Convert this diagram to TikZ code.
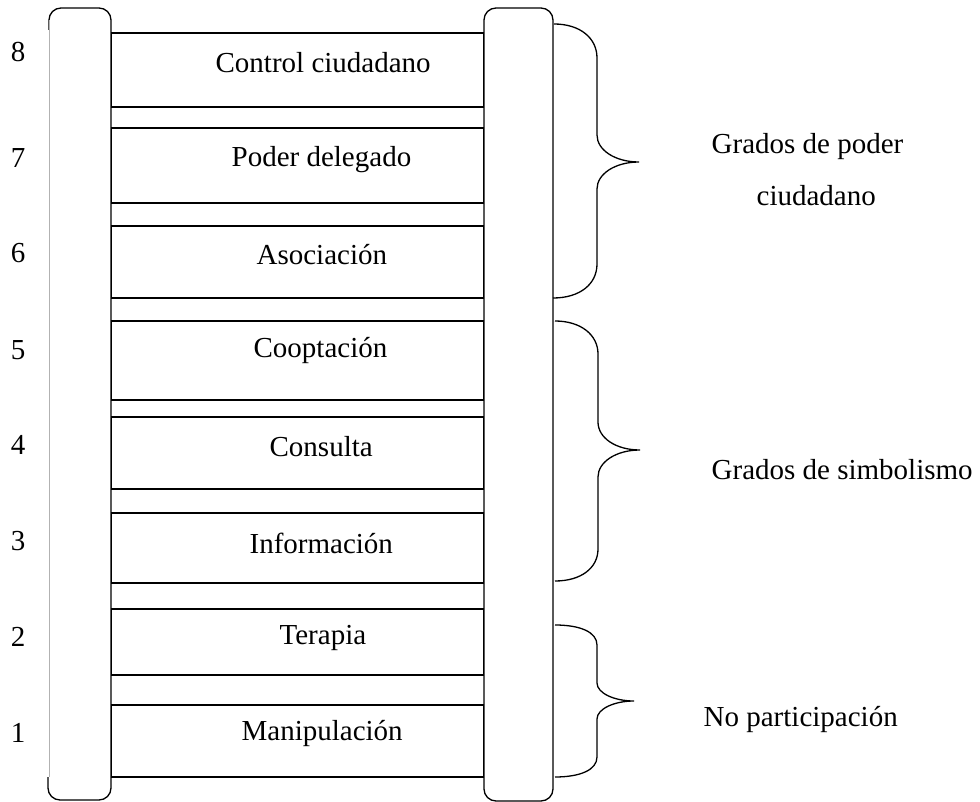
\documentclass[tikz,border=0pt]{standalone}
\usepackage{fontspec}
\setmainfont{Liberation Serif}
\begin{document}
\begin{tikzpicture}[x=1pt,y=-1pt,
  line width=1.3pt,
  rung/.style={draw, line width=1.3pt, minimum width=373pt, inner sep=0pt},
  lbl/.style={inner sep=0pt, anchor=west, font=\fontsize{29}{34}\selectfont},
  glbl/.style={inner sep=0pt, font=\fontsize{29}{34}\selectfont},
  num/.style={inner sep=0pt, font=\fontsize{29}{34}\selectfont},
  bracepath/.style={line width=1.3pt}]
\useasboundingbox (0,0) rectangle (980,802);
% rungs (boxes)
\node[rung, minimum height=74pt] (b8) at (297.5,70) {};
\node[rung, minimum height=75pt] (b7) at (297.5,165.5) {};
\node[rung, minimum height=72pt] (b6) at (297.5,262) {};
\node[rung, minimum height=79pt] (b5) at (297.5,360.5) {};
\node[rung, minimum height=72pt] (b4) at (297.5,453) {};
\node[rung, minimum height=70pt] (b3) at (297.5,548) {};
\node[rung, minimum height=66pt] (b2) at (297.5,642) {};
\node[rung, minimum height=72pt] (b1) at (297.5,741) {};
% left rail
\fill[white] (49,8) rectangle (111,800);
\draw[rounded corners=12pt] (49,30) -- (49,8) -- (111,8) -- (111,800) -- (48,800) -- (48,777);
\draw[gray!60, line width=1pt] (49,20) -- (49,777);
% right rail
\draw[rounded corners=12pt, fill=white] (484,8) rectangle (553,801);
% labels
\node[lbl] (t8) at (215,63) {Control ciudadano};
\node[lbl] (t7) at (231,160) {Poder delegado};
\node[lbl] (t6) at (256,255) {Asociación};
\node[lbl] (t5) at (253,351) {Cooptación};
\node[lbl] (t4) at (269,447) {Consulta};
\node[lbl] (t3) at (249,543) {Información};
\node[lbl] (t2) at (279,638) {Terapia};
\node[lbl] (t1) at (241,734) {Manipulación};
% numbers
\node[num] (n8) at (18,52) {8};
\node[num] (n7) at (18,158) {7};
\node[num] (n6) at (18,253) {6};
\node[num] (n5) at (18,350) {5};
\node[num] (n4) at (18,445) {4};
\node[num] (n3) at (18,541) {3};
\node[num] (n2) at (18,637) {2};
\node[num] (n1) at (18,733) {1};
% braces
\draw[bracepath] (554,24) .. controls (580,24) and (597,38) .. (597,58)
  -- (597,135) .. controls (597,150) and (615,162) .. (639,162)
  .. controls (615,162) and (597,174) .. (597,189)
  -- (597,264) .. controls (597,284) and (580,298) .. (553,298);
\draw[bracepath] (555,321) .. controls (581,321) and (598,335) .. (598,354)
  -- (598,422) .. controls (598,438) and (616,450) .. (640,450)
  .. controls (616,450) and (598,462) .. (598,477)
  -- (598,549) .. controls (598,568) and (581,581) .. (555,581);
\draw[bracepath] (555,625) .. controls (580,625) and (597,632) .. (597,645)
  -- (597,683) .. controls (597,693) and (614,701) .. (634,701)
  .. controls (614,701) and (597,709) .. (597,719)
  -- (597,757) .. controls (597,770) and (580,777) .. (555,777);
% group labels
\node[glbl, anchor=west] (g1a) at (711,147) {Grados de poder};
\node[glbl, anchor=west] (g1b) at (756,196) {ciudadano};
\node[glbl, anchor=west] (g2) at (711,470) {Grados de simbolismo};
\node[glbl, anchor=west] (g3) at (703,720) {No participación};
\end{tikzpicture}
\end{document}
